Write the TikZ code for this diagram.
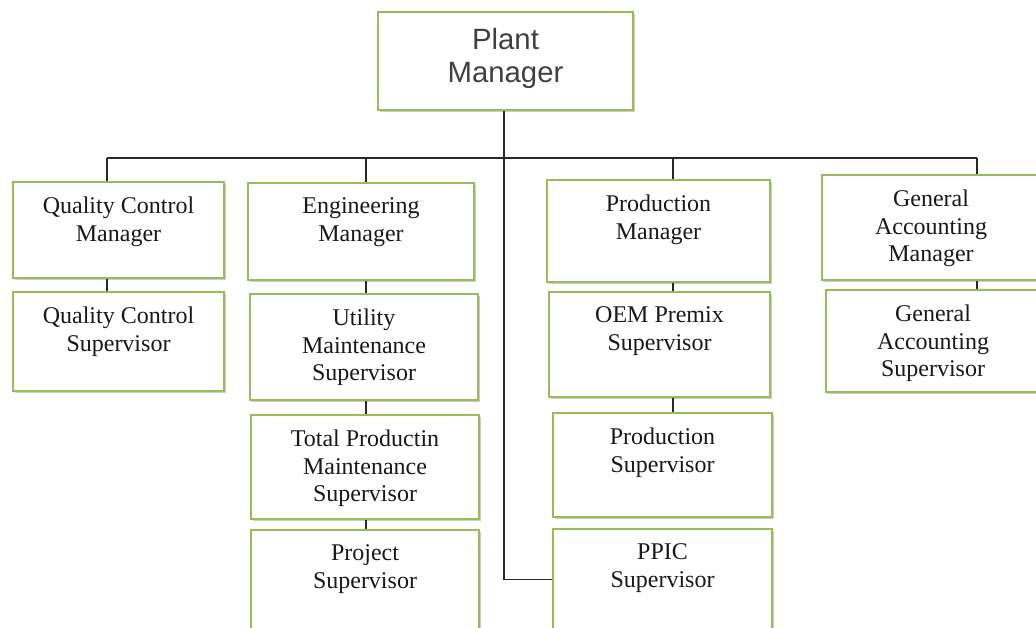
\documentclass[tikz,border=0pt]{standalone}
\usepackage{fontspec}
\newfontfamily\serifb{Liberation Serif}
\newfontfamily\sansb{Liberation Sans}
\usetikzlibrary{fit,shadows}
\definecolor{boxgreen}{RGB}{155,187,89}
\definecolor{linegray}{RGB}{40,40,40}
\definecolor{txtgray}{RGB}{64,64,64}
\begin{document}
\begin{tikzpicture}[x=0.75pt,y=-0.75pt,
  box/.style={draw=boxgreen, line width=1.6pt, fill=white, inner sep=0pt,
    drop shadow={shadow xshift=1.5pt, shadow yshift=-1.5pt, opacity=0.4}},
  txt/.style={anchor=north, align=center, inner sep=0pt,
    font=\serifb\fontsize{18pt}{20.8pt}\selectfont, text=black!90,
    execute at begin node=\strut},
  ttl/.style={anchor=north, align=center, inner sep=0pt,
    font=\sansb\fontsize{22pt}{24.8pt}\selectfont, text=txtgray,
    execute at begin node=\strut},
  conn/.style={draw=linegray, line width=1.3pt}]
\useasboundingbox (0,0) rectangle (1036,628);
\clip (0,0) rectangle (1036,628);

% boxes
\node[box, fit={(378,12) (633,110)}] (pm) {};
\node[box, fit={(13,182) (224,278)}] (qcm) {};
\node[box, fit={(13,292) (224,391)}] (qcs) {};
\node[box, fit={(248,183) (474,280)}] (em) {};
\node[box, fit={(250,294) (478,400)}] (ums) {};
\node[box, fit={(251,415) (479,519)}] (tpm) {};
\node[box, fit={(251,530) (479,630)}] (prj) {};
\node[box, fit={(547,180) (770,282)}] (prm) {};
\node[box, fit={(549,292) (770,397)}] (oem) {};
\node[box, fit={(553,413) (772,517)}] (prs) {};
\node[box, fit={(553,529) (772,630)}] (ppic) {};
\node[box, fit={(822,175) (1040,280)}] (gam) {};
\node[box, fit={(826,290) (1040,392)}] (gas) {};

% texts
\node[ttl] (pm-t) at ([yshift=-13pt]pm.north) {Plant\\Manager};
\node[txt] (qcm-t) at ([yshift=-11.7pt]qcm.north) {Quality Control\\Manager};
\node[txt] (qcs-t) at ([yshift=-11.7pt]qcs.north) {Quality Control\\Supervisor};
\node[txt] (em-t) at ([yshift=-11.7pt]em.north) {Engineering\\Manager};
\node[txt] (ums-t) at ([yshift=-11.7pt]ums.north) {Utility\\Maintenance\\Supervisor};
\node[txt] (tpm-t) at ([yshift=-11.7pt]tpm.north) {Total Productin\\Maintenance\\Supervisor};
\node[txt] (prj-t) at ([yshift=-11.7pt]prj.north) {Project\\Supervisor};
\node[txt] (prm-t) at ([yshift=-11.7pt]prm.north) {Production\\Manager};
\node[txt] (oem-t) at ([yshift=-11.7pt]oem.north) {OEM Premix\\Supervisor};
\node[txt] (prs-t) at ([yshift=-11.7pt]prs.north) {Production\\Supervisor};
\node[txt] (ppic-t) at ([yshift=-11.7pt]ppic.north) {PPIC\\Supervisor};
\node[txt] (gam-t) at ([yshift=-11.7pt]gam.north) {General\\Accounting\\Manager};
\node[txt] (gas-t) at ([yshift=-11.7pt]gas.north) {General\\Accounting\\Supervisor};

% connector coordinates
\coordinate (pmx) at (504,158);
\coordinate (qcx) at (107,158);
\coordinate (enx) at (366,158);
\coordinate (prx) at (673,158);
\coordinate (gax) at (977,158);

% connectors
\draw[conn] (pmx |- pm.south) -- (pmx |- ppic.west) -- (ppic.west);
\draw[conn] (qcx) -- (gax);
\draw[conn] (qcx) -- (qcx |- qcm.north);
\draw[conn] (enx) -- (enx |- em.north);
\draw[conn] (prx) -- (prx |- prm.north);
\draw[conn] (gax) -- (gax |- gam.north);
\draw[conn] (qcx |- qcm.south) -- (qcx |- qcs.north);
\draw[conn] (enx |- em.south) -- (enx |- ums.north);
\draw[conn] (enx |- ums.south) -- (enx |- tpm.north);
\draw[conn] (enx |- tpm.south) -- (enx |- prj.north);
\draw[conn] (prx |- prm.south) -- (prx |- oem.north);
\draw[conn] (prx |- oem.south) -- (prx |- prs.north);
\draw[conn] (gax |- gam.south) -- (gax |- gas.north);
\end{tikzpicture}
\end{document}
